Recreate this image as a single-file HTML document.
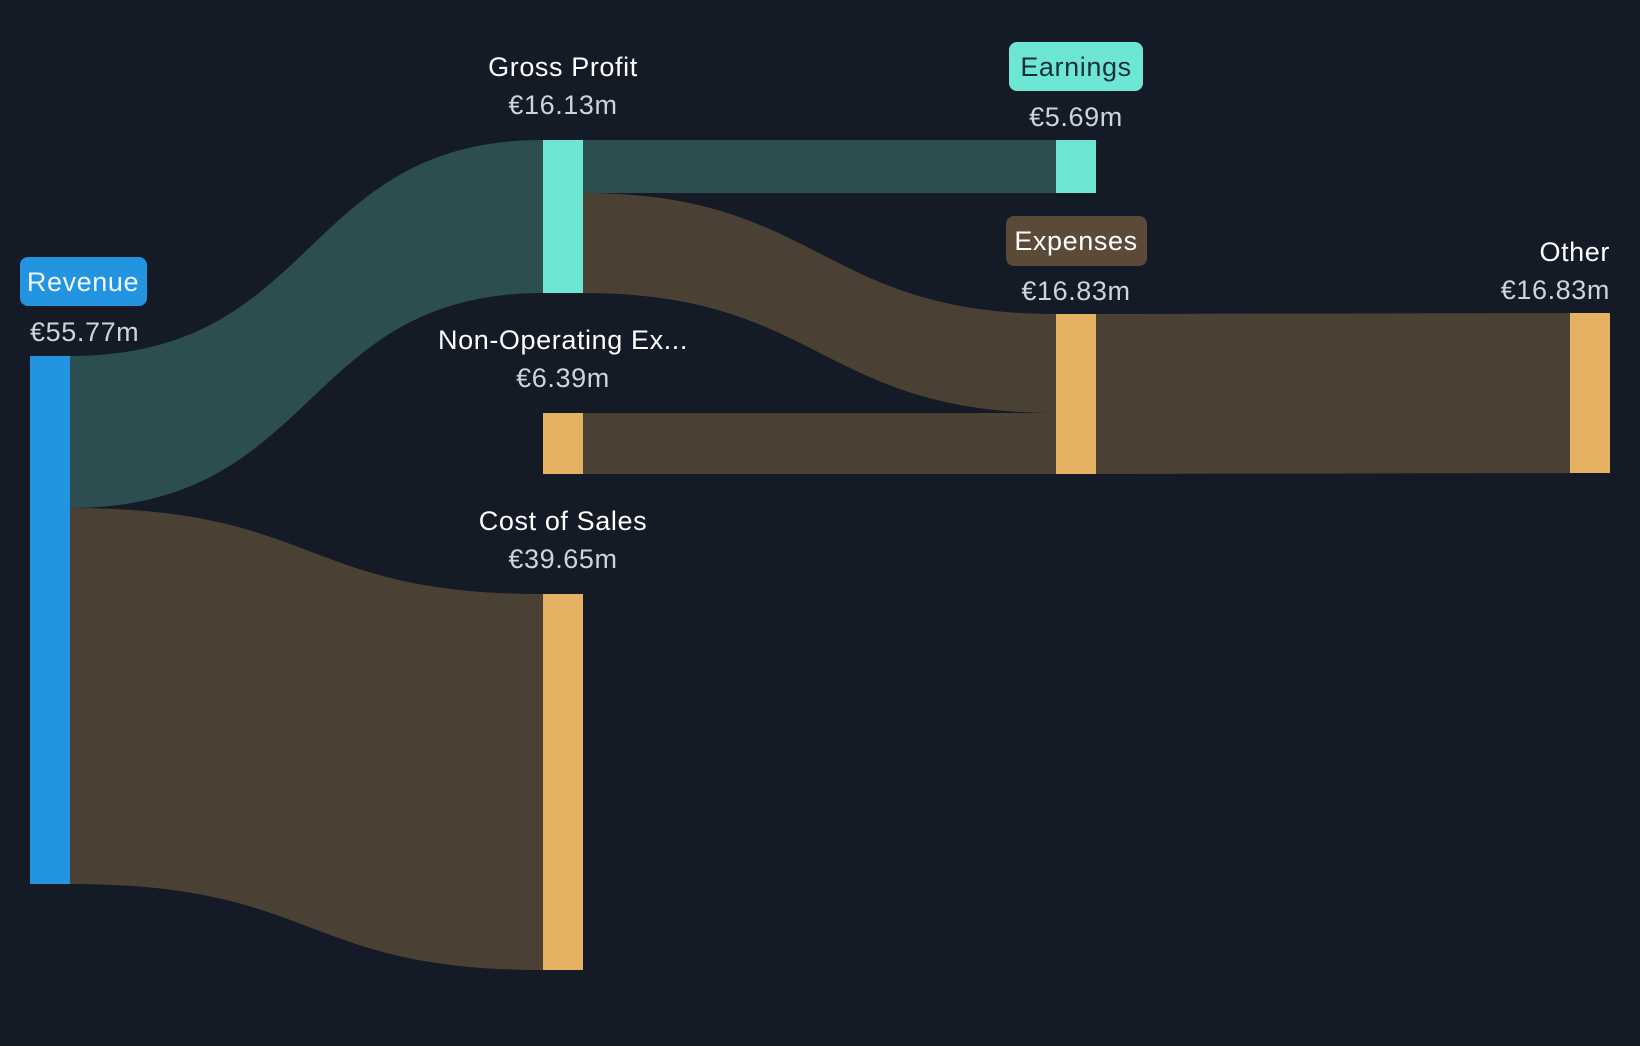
<!DOCTYPE html>
<html><head><meta charset="utf-8"><style>
html,body{margin:0;padding:0;background:#141b26;}
svg{display:block}
text{font-family:"Liberation Sans",sans-serif;font-size:27px;letter-spacing:0.6px;}
</style></head><body>
<svg width="1640" height="1046" viewBox="0 0 1640 1046">
<rect width="1640" height="1046" fill="#141b26"/>
<path d="M70,356 C320,356 300,140 543,140 L543,293 C300,293 320,508 70,508 Z" fill="#2c4e51"/>
<path d="M70,508 C320,508 300,594 543,594 L543,970 C300,970 320,884 70,884 Z" fill="#4a4034"/>
<path d="M583,140 L1056,140 L1056,193 L583,193 Z" fill="#2c4e51"/>
<path d="M583,193 C820,193 820,314 1056,314 L1056,413 C820,413 820,293 583,293 Z" fill="#4a4034"/>
<path d="M583,413 L1056,413 L1056,474 L583,474 Z" fill="#4a4034"/>
<path d="M1096,314 L1570,313 L1570,473 L1096,474 Z" fill="#4a4034"/>
<rect x="30" y="356" width="40" height="528" fill="#2394e0"/>
<rect x="543" y="140" width="40" height="153" fill="#6ee6d4"/>
<rect x="543" y="413" width="40" height="61" fill="#e4b062"/>
<rect x="543" y="594" width="40" height="376" fill="#e4b062"/>
<rect x="1056" y="140" width="40" height="53" fill="#6ee6d4"/>
<rect x="1056" y="314" width="40" height="160" fill="#e4b062"/>
<rect x="1570" y="313" width="40" height="160" fill="#e4b062"/>
<rect x="20" y="257" width="127" height="49" rx="8" fill="#2394e0"/>
<rect x="1009" y="42" width="134" height="49" rx="8" fill="#6ee6d4"/>
<rect x="1006" y="216" width="141" height="50" rx="8" fill="#5c4a38"/>
<g fill="#ffffff">
<text x="83" y="291" text-anchor="middle" fill="#eef6ff">Revenue</text>
<text x="30" y="341" fill="#d0d4da">€55.77m</text>
<text x="563" y="76" text-anchor="middle">Gross Profit</text>
<text x="563" y="114" text-anchor="middle" fill="#d0d4da">€16.13m</text>
<text x="1076" y="76" text-anchor="middle" fill="#16313a">Earnings</text>
<text x="1076" y="126" text-anchor="middle" fill="#d0d4da">€5.69m</text>
<text x="1076" y="250" text-anchor="middle">Expenses</text>
<text x="1076" y="300" text-anchor="middle" fill="#d0d4da">€16.83m</text>
<text x="1610" y="261" text-anchor="end">Other</text>
<text x="1610" y="299" text-anchor="end" fill="#d0d4da">€16.83m</text>
<text x="563" y="349" text-anchor="middle">Non-Operating Ex...</text>
<text x="563" y="387" text-anchor="middle" fill="#d0d4da">€6.39m</text>
<text x="563" y="530" text-anchor="middle">Cost of Sales</text>
<text x="563" y="568" text-anchor="middle" fill="#d0d4da">€39.65m</text>
</g>
</svg>
</body></html>
